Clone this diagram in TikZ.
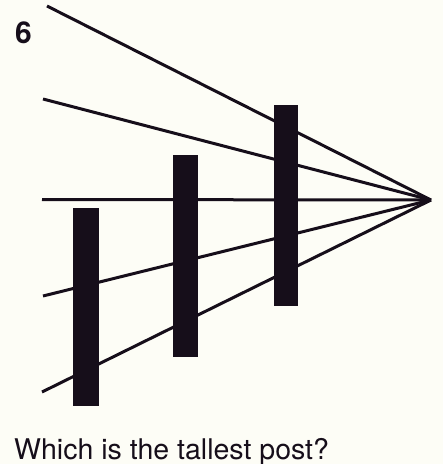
\documentclass[tikz,border=0pt]{standalone}
\usepackage{fontspec}
\setmainfont{TeX Gyre Heros}
\definecolor{paper}{RGB}{253,253,246}
\definecolor{ink}{RGB}{22,14,26}

\begin{document}
\begin{tikzpicture}[
  x=1pt, y=-1pt,
  ray/.style={draw=ink, line width=3pt},
  post/.style={fill=ink, draw=none},
  label/.style={inner sep=0pt, text=ink}
]
\useasboundingbox[fill=paper] (0,0) rectangle (443,464);

% vanishing point and the starts of the rays
\coordinate (vanish) at (431,200);
\coordinate (rayA) at (47,6);
\coordinate (rayB) at (43,99);
\coordinate (rayC) at (42,199.5);
\coordinate (rayD) at (43,296);
\coordinate (rayE) at (42,392);

\draw[ray] (rayA) -- (vanish);
\draw[ray] (rayB) -- (vanish);
\draw[ray] (rayC) -- (vanish);
\draw[ray] (rayD) -- (vanish);
\draw[ray] (rayE) -- (vanish);

% the three posts
\fill[post] (73,208) rectangle (99,406);
\fill[post] (173,155) rectangle (198,357);
\fill[post] (274,105) rectangle (298,306);

\node[label, anchor=base west, font=\fontsize{30}{32}\selectfont\bfseries] (number) at (15,43) {6};
\node[label, anchor=base west, font=\fontsize{28.5}{30}\selectfont] (question) at (14,459) {Which is the tallest post?};

\end{tikzpicture}
\end{document}
